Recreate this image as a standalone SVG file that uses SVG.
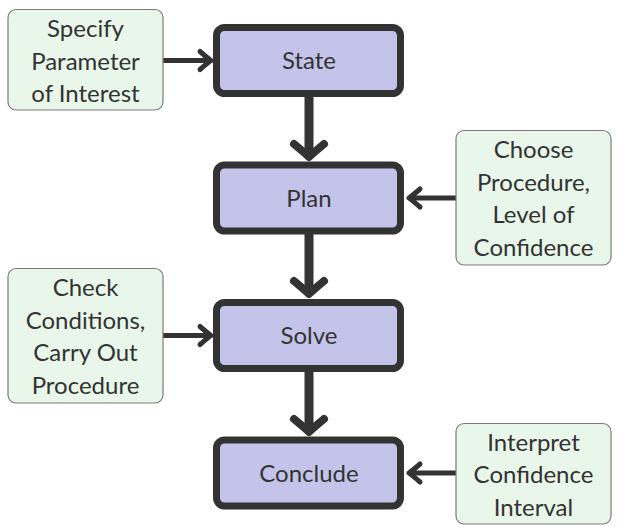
<svg xmlns="http://www.w3.org/2000/svg" width="620" height="532" viewBox="0 0 620 532">
<style>
.main rect{fill:#c4c3ea;stroke:#333333;stroke-width:7}
.side rect{fill:#e8f7ea;stroke:#7a7a7a;stroke-width:1.2}
text{font-family:Lato,"Liberation Sans",sans-serif;font-size:24px;fill:#333333;text-anchor:middle}
.thin{stroke:#333333;stroke-width:5;fill:none}
.thick{stroke:#333333;stroke-width:9;fill:none}
</style>
<defs>
<marker id="hs" markerUnits="userSpaceOnUse" viewBox="-20 -20 30 40" refX="0" refY="0" markerWidth="30" markerHeight="40" orient="auto" overflow="visible">
<path d="M-11,-9 Q-3,-2 0,0 Q-3,2 -11,9" fill="none" stroke="#333333" stroke-width="5" stroke-linecap="round" stroke-linejoin="round"/>
</marker>
<marker id="hb" markerUnits="userSpaceOnUse" viewBox="-30 -30 40 60" refX="0" refY="0" markerWidth="40" markerHeight="60" orient="auto" overflow="visible">
<path d="M-13,-15 Q-3,-3 0,0 Q-3,3 -13,15" fill="none" stroke="#333333" stroke-width="8" stroke-linecap="round" stroke-linejoin="round"/>
</marker>
</defs>
<g id="connectors">
<path class="thin" d="M163,60.5 H211" marker-end="url(#hs)"/>
<path class="thin" d="M456,198 H409" marker-end="url(#hs)"/>
<path class="thin" d="M163,335.5 H211" marker-end="url(#hs)"/>
<path class="thin" d="M456,473 H409" marker-end="url(#hs)"/>
<path class="thick" d="M309,97 V157" marker-end="url(#hb)"/>
<path class="thick" d="M309,234 V294" marker-end="url(#hb)"/>
<path class="thick" d="M309,371 V432" marker-end="url(#hb)"/>
</g>
<g id="state" class="main"><rect x="216.5" y="27.5" width="184" height="66" rx="8"/><text x="309" y="69">State</text></g>
<g id="plan" class="main"><rect x="216.5" y="165" width="184" height="66" rx="8"/><text x="309" y="206.5">Plan</text></g>
<g id="solve" class="main"><rect x="216.5" y="302.5" width="184" height="66" rx="8"/><text x="309" y="344">Solve</text></g>
<g id="conclude" class="main"><rect x="216.5" y="440" width="184" height="66" rx="8"/><text x="309" y="481.5">Conclude</text></g>
<g id="specify" class="side"><rect x="8" y="9.5" width="155" height="100.5" rx="8"/>
<text x="85.5" y="37">Specify</text><text x="85.5" y="69.5">Parameter</text><text x="85.5" y="102">of Interest</text></g>
<g id="choose" class="side"><rect x="456" y="130.5" width="155" height="134.5" rx="8"/>
<text x="533.5" y="158">Choose</text><text x="533.5" y="190.5">Procedure,</text><text x="533.5" y="223">Level of</text><text x="533.5" y="255.5">Confidence</text></g>
<g id="check" class="side"><rect x="8" y="268.5" width="155" height="134.5" rx="8"/>
<text x="85.5" y="296">Check</text><text x="85.5" y="328.5">Conditions,</text><text x="85.5" y="361">Carry Out</text><text x="85.5" y="393.5">Procedure</text></g>
<g id="interpret" class="side"><rect x="456" y="423.5" width="155" height="100.5" rx="8"/>
<text x="533.5" y="450.5">Interpret</text><text x="533.5" y="483">Confidence</text><text x="533.5" y="515.5">Interval</text></g>
</svg>
